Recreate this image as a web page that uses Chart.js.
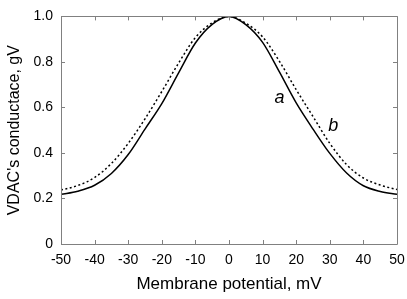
<!DOCTYPE html>
<html>
<head>
<meta charset="utf-8">
<script src="https://cdn.jsdelivr.net/npm/chart.js@4.4.1/dist/chart.umd.min.js"></script>
<style>
  html, body { margin: 0; padding: 0; background: #fff; }
  #wrap { width: 407px; height: 299px; }
</style>
</head>
<body>
<div id="wrap"><canvas id="vdacChart" width="407" height="299"></canvas></div>
<script>
// Membrane potential (mV)
const potentials = [-50, -45, -40, -35, -30, -25, -20, -15, -10, -5, 0, 5, 10, 15, 20, 25, 30, 35, 40, 45, 50];
// curve a (solid)
const conductanceA = [0.218, 0.232, 0.258, 0.31, 0.393, 0.505, 0.617, 0.752, 0.883, 0.965, 1.0, 0.964, 0.886, 0.756, 0.62, 0.505, 0.398, 0.312, 0.256, 0.231, 0.218];
// curve b (dotted)
const conductanceB = [0.237, 0.257, 0.292, 0.354, 0.442, 0.55, 0.67, 0.795, 0.907, 0.972, 1.0, 0.97, 0.91, 0.803, 0.678, 0.56, 0.442, 0.349, 0.29, 0.259, 0.239];
const xTicks = [-50, -40, -30, -20, -10, 0, 10, 20, 30, 40, 50];
const yTicks = [0, 0.2, 0.4, 0.6, 0.8, 1.0];
const curveLabels = [
    { text: 'a', x: 15, y: 0.64 },
    { text: 'b', x: 31, y: 0.52 }
];

const FONT = '"Liberation Sans", Arial, sans-serif';
const AXIS_COLOR = '#808080';

function toPoints(values) {
    return potentials.map((v, i) => ({ x: v, y: values[i] }));
}

// box around the plot and inward ticks on all four sides
const frameAndTicks = {
    id: 'frameAndTicks',
    afterDraw(chart) {
        const ctx = chart.ctx;
        const area = chart.chartArea;
        const xs = chart.scales.x;
        const ys = chart.scales.y;
        const len = 4;
        ctx.save();
        ctx.strokeStyle = AXIS_COLOR;
        ctx.lineWidth = 1;
        ctx.beginPath();
        ctx.rect(Math.round(area.left) + 0.5, Math.round(area.top) + 0.5,
                 Math.round(area.right - area.left), Math.round(area.bottom - area.top));
        xTicks.forEach(t => {
            const px = Math.round(xs.getPixelForValue(t)) + 0.5;
            ctx.moveTo(px, area.bottom);
            ctx.lineTo(px, area.bottom - len);
            ctx.moveTo(px, area.top);
            ctx.lineTo(px, area.top + len);
        });
        yTicks.forEach(t => {
            const py = Math.round(ys.getPixelForValue(t)) + 0.5;
            ctx.moveTo(area.left, py);
            ctx.lineTo(area.left + len, py);
            ctx.moveTo(area.right, py);
            ctx.lineTo(area.right - len, py);
        });
        ctx.stroke();

        // curve labels
        ctx.fillStyle = '#000';
        ctx.font = 'italic 18px ' + FONT;
        ctx.textAlign = 'center';
        ctx.textBaseline = 'middle';
        curveLabels.forEach(l => {
            ctx.fillText(l.text, xs.getPixelForValue(l.x), ys.getPixelForValue(l.y));
        });
        ctx.restore();
    }
};

const ctx = document.getElementById('vdacChart').getContext('2d');
const vdacChart = new Chart(ctx, {
    type: 'line',
    data: {
        datasets: [
            {
                label: 'a',
                data: toPoints(conductanceA),
                borderColor: '#000',
                borderWidth: 1.5,
                pointRadius: 0,
                cubicInterpolationMode: 'monotone',
                fill: false
            },
            {
                label: 'b',
                data: toPoints(conductanceB),
                borderColor: '#000',
                borderWidth: 1.5,
                borderDash: [2, 2.5],
                pointRadius: 0,
                cubicInterpolationMode: 'monotone',
                fill: false
            }
        ]
    },
    options: {
        responsive: false,
        animation: false,
        devicePixelRatio: 1,
        layout: { padding: { top: 7, right: 10, left: 0, bottom: 0 } },
        plugins: {
            legend: { display: false },
            tooltip: { enabled: false }
        },
        scales: {
            x: {
                type: 'linear',
                min: -50,
                max: 50,
                afterBuildTicks: scale => { scale.ticks = xTicks.map(v => ({ value: v })); },
                afterFit: scale => {
                    scale.height = 55;
                    scale.paddingLeft = 0;
                    scale.paddingRight = 0;
                },
                grid: { display: false, drawTicks: false },
                border: { display: false },
                ticks: {
                    color: '#000',
                    padding: 8,
                    maxRotation: 0,
                    font: { family: FONT, size: 14 },
                    callback: v => String(v)
                },
                title: {
                    display: true,
                    text: 'Membrane potential, mV',
                    color: '#000',
                    font: { family: FONT, size: 17 },
                    padding: { top: 2 }
                }
            },
            y: {
                min: 0,
                max: 1,
                afterBuildTicks: scale => { scale.ticks = yTicks.map(v => ({ value: v })); },
                afterFit: scale => { scale.width = 61; },
                grid: { display: false, drawTicks: false },
                border: { display: false },
                ticks: {
                    color: '#000',
                    padding: 8,
                    font: { family: FONT, size: 14 },
                    callback: v => v === 0 ? '0' : v.toFixed(1)
                },
                title: {
                    display: true,
                    text: "VDAC's conductace, gV",
                    color: '#000',
                    font: { family: FONT, size: 16 },
                    padding: { top: 5, bottom: 2 }
                }
            }
        }
    },
    plugins: [frameAndTicks]
});
</script>
</body>
</html>
